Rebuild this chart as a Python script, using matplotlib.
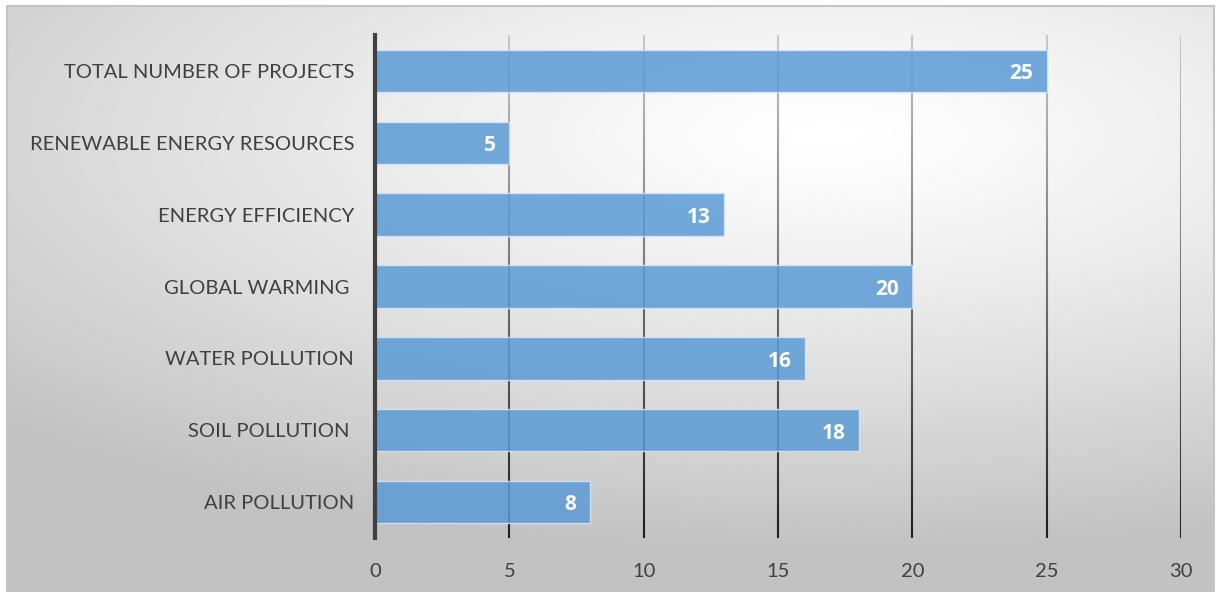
import matplotlib
matplotlib.use('Agg')
import matplotlib.pyplot as plt
import numpy as np
from matplotlib.collections import LineCollection
from matplotlib.patches import Rectangle

plt.rcParams['font.family'] = ['Lato', 'DejaVu Sans']

# data (top to bottom as in the chart)
categories = ['TOTAL NUMBER OF PROJECTS', 'RENEWABLE ENERGY RESOURCES', 'ENERGY EFFICIENCY',
              'GLOBAL WARMING ', 'WATER POLLUTION', 'SOIL POLLUTION ', 'AIR POLLUTION']
values = [25, 5, 13, 20, 16, 18, 8]
x_ticks = [0, 5, 10, 15, 20, 25, 30]

W, H = 1216, 593
fig = plt.figure(figsize=(W / 100, H / 100), dpi=100)
fig.patch.set_facecolor('white')

# framed background with radial gradient
fx0, fy0, fx1, fy1 = 7, 6, 1214, 591
bg = fig.add_axes([fx0 / W, 1 - fy1 / H, (fx1 - fx0) / W, (fy1 - fy0) / H])
gx, gy = np.meshgrid(np.linspace(0, 1, 600), np.linspace(0, 1, 300))
d = np.sqrt(((gx - 0.68) / 1.0) ** 2 + ((gy - 0.22) / 0.75) ** 2)
shade = 1.0 - 0.24 * np.clip(d / 0.95, 0, 1) ** 1.2
bg.imshow(shade, cmap='gray', vmin=0, vmax=1, extent=[0, 1, 1, 0], aspect='auto',
          interpolation='bilinear')
bg.set_xlim(0, 1)
bg.set_ylim(1, 0)
bg.axis('off')
bg.add_patch(Rectangle((0, 0), 1, 1, transform=bg.transAxes, fill=False,
                       edgecolor='#c4c4c4', linewidth=1.5, clip_on=False))

# main axes
ax = fig.add_axes([375 / W, 1 - 538 / H, (1181 - 375) / W, (538 - 35) / H])
ax.patch.set_alpha(0)

ypos = np.arange(len(categories))
bars = ax.barh(ypos, values, height=0.59, color='#5B9BD5', alpha=0.85,
               edgecolor='#d6e6f5', linewidth=1.0, zorder=3)

# gridlines with vertical gradient (light at top, dark at bottom)
n = 80
ys = np.linspace(-0.5, len(categories) - 0.5, n + 1)
t = np.linspace(0, 1, n)
cols = [(0.78 - 0.66 * k,) * 3 for k in t]
for xt in x_ticks[1:]:
    segs = [[(xt, ys[i]), (xt, ys[i + 1])] for i in range(n)]
    ax.add_collection(LineCollection(segs, colors=cols, linewidths=1.5, zorder=2))

# value labels
for b, v in zip(bars, values):
    ax.text(b.get_width() - 0.5, b.get_y() + b.get_height() / 2 + 0.04, str(v),
            ha='right', va='center', color='white', fontsize=15, fontweight='bold',
            family=['Open Sans', 'DejaVu Sans'], zorder=4)

ax.set_xlim(0, 30)
ax.set_ylim(len(categories) - 0.5, -0.5)
ax.set_yticks(ypos)
ax.set_yticklabels(categories, fontsize=14.5, color='#404040')
ax.set_xticks(x_ticks)
ax.set_xticklabels([str(x) for x in x_ticks], fontsize=14.5, color='#404040')
ax.tick_params(axis='both', length=0)
ax.tick_params(axis='y', pad=15)
ax.tick_params(axis='x', pad=18)
for s in ['top', 'right', 'bottom']:
    ax.spines[s].set_visible(False)
ax.spines['left'].set_color('#404040')
ax.spines['left'].set_linewidth(3)
ax.spines['left'].set_zorder(5)

plt.savefig('out.png', dpi=100)
